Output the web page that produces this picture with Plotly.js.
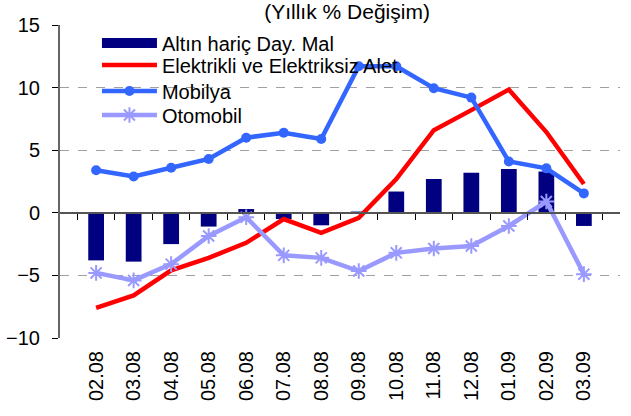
<!DOCTYPE html>
<html>
<head>
<meta charset="utf-8">
<script src="https://cdn.plot.ly/plotly-3.0.1.min.js"></script>
<style>
  html, body { margin: 0; padding: 0; background: #fff; }
  #chart { width: 631px; height: 416px; }
</style>
</head>
<body>
<div id="chart"></div>
<script>
// months (ay.yıl)
const months = ["02.08", "03.08", "04.08", "05.08", "06.08", "07.08", "08.08",
  "09.08", "10.08", "11.08", "12.08", "01.09", "02.09", "03.09"];

// yıllık % değişim
const altinHaric = [-3.8, -3.9, -2.5, -1.1, 0.3, -0.5, -1.0, 0.1, 1.7, 2.7, 3.2, 3.5, 3.3, -1.05];
const elektrikli = [-7.6, -6.6, -4.6, -3.6, -2.4, -0.5, -1.6, -0.4, 2.7, 6.6, 8.2, 9.85, 6.45, 2.3];
const mobilya = [3.4, 2.9, 3.6, 4.3, 6.0, 6.4, 5.9, 11.7, 11.7, 9.95, 9.2, 4.1, 3.55, 1.55];
const otomobil = [-4.8, -5.4, -4.1, -1.85, -0.35, -3.4, -3.6, -4.65, -3.2, -2.85, -2.65, -1.05, 0.9, -4.9];

const font = "Liberation Sans, Arial, sans-serif";
const blank = months.map(() => null);

const traces = [
  {
    x: months, y: altinHaric, type: "bar", name: "Altın hariç Day. Mal",
    marker: { color: "#000080" }, showlegend: false
  },
  // legend entry for the bars (wide rectangle like the original)
  {
    x: months, y: blank, type: "scatter", mode: "lines", name: "Altın hariç Day. Mal",
    line: { color: "#000080", width: 12 }, hoverinfo: "skip", legend: "legend"
  },
  {
    x: months, y: elektrikli, type: "scatter", mode: "lines", name: "Elektrikli ve Elektriksiz Alet.",
    line: { color: "#ff0000", width: 4.5 }, legend: "legend2"
  },
  {
    x: months, y: mobilya, type: "scatter", mode: "lines+markers", name: "Mobilya",
    line: { color: "#3366ff", width: 4.5 },
    marker: { color: "#3366ff", size: 10, symbol: "circle" }, legend: "legend3"
  },
  {
    x: months, y: otomobil, type: "scatter", mode: "lines+markers", name: "Otomobil",
    line: { color: "#9999ff", width: 4.5 },
    marker: { color: "#9999ff", size: 13, symbol: "asterisk-open", line: { color: "#9999ff", width: 2 } },
    legend: "legend4"
  },
  // zero axis with boundary ticks
  {
    x: months, y: blank, xaxis: "x2", type: "scatter",
    showlegend: false, hoverinfo: "skip"
  }
];

// one legend per row so the rows sit as tight as in the original
const legendRow = (y) => ({
  x: 0.066, y: y, xanchor: "left", yanchor: "middle",
  bgcolor: "rgba(0,0,0,0)", font: { family: font, size: 20 },
  itemwidth: 55
});

const layout = {
  width: 631, height: 416,
  margin: { l: 60, r: 11, t: 25, b: 78 },
  paper_bgcolor: "#fff", plot_bgcolor: "#fff",
  font: { family: font, size: 20, color: "#000" },
  title: {
    text: "(Yıllık % Değişim)", x: 0.55, xanchor: "center",
    y: 0.972, yanchor: "middle", font: { family: font, size: 21 }
  },
  bargap: 0.58,
  showlegend: true,
  legend: legendRow(0.9425),
  legend2: legendRow(0.872),
  legend3: legendRow(0.789),
  legend4: legendRow(0.7125),
  xaxis: {
    type: "category", showline: false, ticks: "", showgrid: false,
    tickangle: -90, ticklabelstandoff: 8, tickfont: { family: font, size: 20 }
  },
  xaxis2: {
    type: "category", overlaying: "x", matches: "x", anchor: "free", position: 0.4,
    showline: true, linecolor: "#555", linewidth: 2,
    ticks: "outside", tickson: "boundaries", ticklen: 6, tickcolor: "#000",
    showticklabels: false, showgrid: false
  },
  yaxis: {
    range: [-10, 15], dtick: 5, tick0: 0,
    showline: true, linecolor: "#666", linewidth: 2,
    ticks: "outside", ticklen: 6, tickcolor: "#000", ticklabelstandoff: 8,
    showgrid: true, gridcolor: "#a0a0a0", griddash: "dash", gridwidth: 1,
    zeroline: false, tickfont: { family: font, size: 20 }
  }
};

Plotly.newPlot("chart", traces, layout, { displayModeBar: false, staticPlot: true });
</script>
</body>
</html>
